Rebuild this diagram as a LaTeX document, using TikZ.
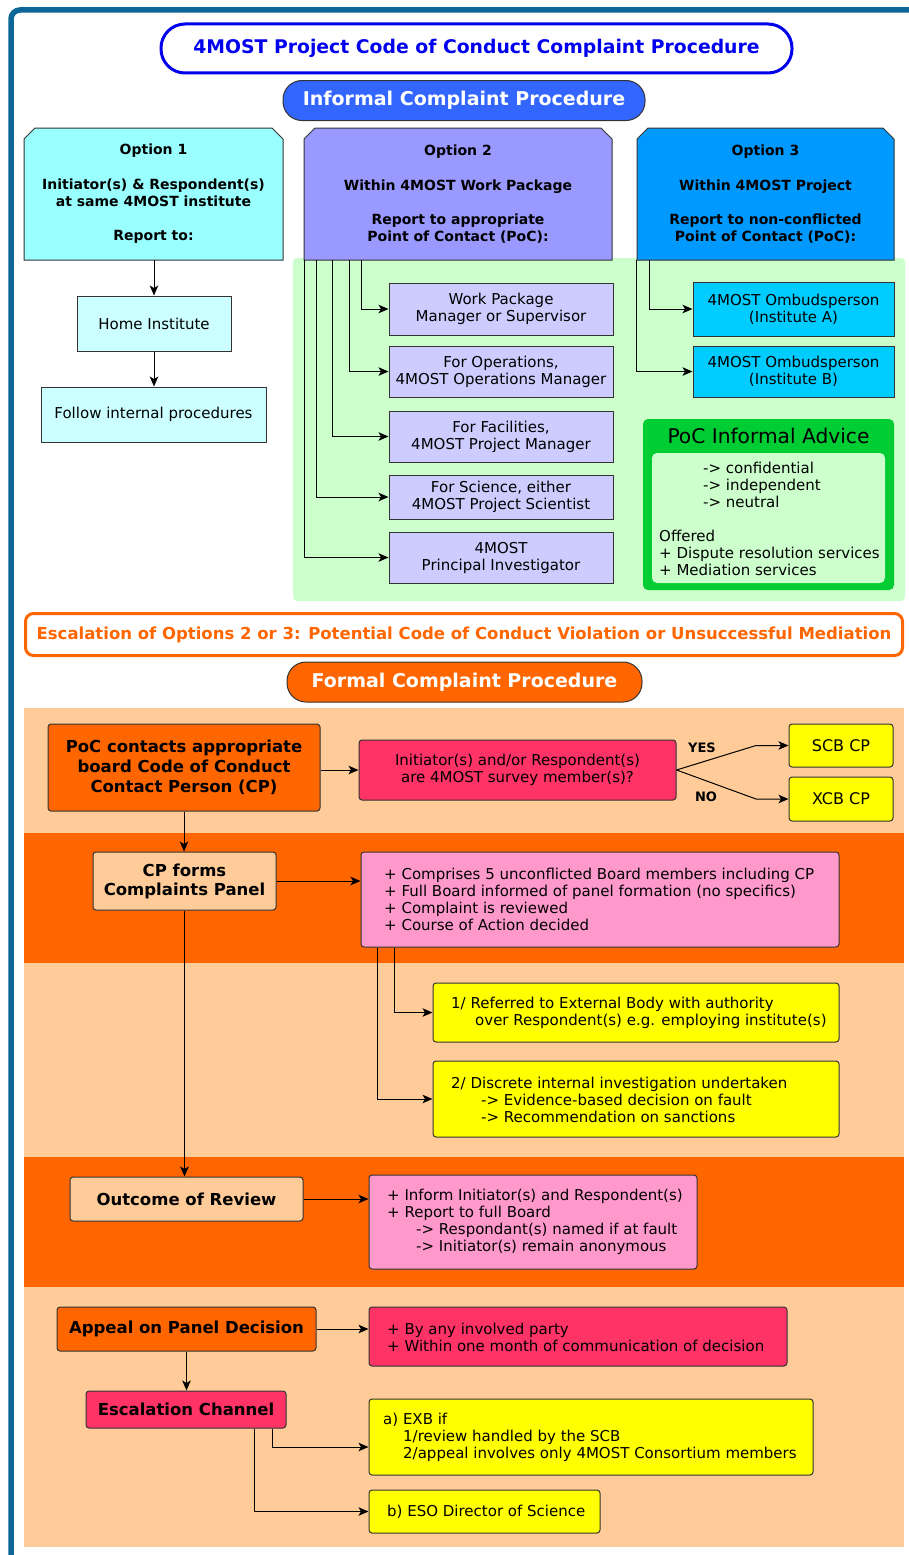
\documentclass[tikz,border=0pt]{standalone}
\usepackage{fontspec}
\setmainfont{DejaVu Sans}
\usetikzlibrary{arrows.meta}
\definecolor{frameblue}{RGB}{12,102,152}
\definecolor{titleblue}{RGB}{0,0,238}
\definecolor{informalblue}{RGB}{51,102,255}
\definecolor{optone}{HTML}{99FFFF}
\definecolor{cyanlight}{HTML}{CCFFFF}
\definecolor{opttwo}{HTML}{9999FF}
\definecolor{lavender}{HTML}{CCCCFF}
\definecolor{optthree}{HTML}{0099FF}
\definecolor{ombud}{HTML}{00CCFF}
\definecolor{greenbg}{HTML}{CCFFCC}
\definecolor{advgreen}{HTML}{00CC33}
\definecolor{orng}{HTML}{FF6600}
\definecolor{peach}{HTML}{FFCC99}
\definecolor{pinkbox}{HTML}{FF99CC}
\definecolor{rose}{HTML}{FF3366}
\definecolor{yell}{HTML}{FFFF00}
\definecolor{edge}{HTML}{333333}
\newcommand\fbody{\fontsize{15}{17}\selectfont}
\newcommand\fopt{\fontsize{14}{17}\selectfont\bfseries}
\newcommand\fbig{\fontsize{16.5}{20}\selectfont\bfseries}
\newcommand\ftitle{\fontsize{18.8}{22}\selectfont\bfseries}
\newcommand\fpill{\fontsize{19}{22}\selectfont\bfseries}
\newcommand\fesc{\fontsize{16.5}{19}\selectfont\bfseries}
\newcommand\chamf[5]{\filldraw[fill=#5, draw=edge, line width=1pt] (#1,#4) -- (#1,#2+11) -- (#1+11,#2) -- (#3-11,#2) -- (#3,#2+11) -- (#3,#4) -- cycle;}
\tikzset{
  bx/.style={draw=edge, line width=1pt, inner sep=0pt, align=center, font=\fbody},
  rbx/.style={bx, rounded corners=3pt},
  txt/.style={inner sep=0pt, align=left, font=\fbody, anchor=west},
  pill/.style={draw=edge, line width=1pt, rounded corners=19pt, inner sep=0pt, font=\fpill},
  arr/.style={-{Stealth[length=10pt,width=8.5pt,inset=2.5pt]}, line width=1pt, draw=black},
}
\begin{document}
\begin{tikzpicture}[x=1pt,y=-1pt]
\useasboundingbox (0,0) rectangle (909,1555);
\clip (0,0) rectangle (909,1555);
\fill[white] (0,0) rectangle (909,1555);
% frame
\draw[frameblue, line width=5.5pt, rounded corners=9pt] (11,10) rectangle (940,1590);

% titles
\node[draw=titleblue, line width=3pt, rounded corners=24pt, fill=white, minimum width=631pt, minimum height=49pt, font=\ftitle, text=titleblue, inner sep=0pt] (title) at (476.5,48.5) {4MOST Project Code of Conduct Complaint Procedure};
\node[pill, fill=informalblue, minimum width=362pt, minimum height=40pt, text=white] (informal) at (464,100.5) {Informal Complaint Procedure};

% green region
\fill[greenbg, rounded corners=4pt] (293,258) rectangle (905,601);

% options
\chamf{24}{128}{283}{260}{optone}
\chamf{304}{128}{612}{260}{opttwo}
\chamf{637}{128}{894}{260}{optthree}
\node[inner sep=0pt, align=center, font=\fopt, minimum width=259pt, minimum height=132pt] (opt1) at (153.5,194) {Option 1\\[18pt]Initiator(s) \& Respondent(s)\\at same 4MOST institute\\[17pt]Report to:};
\node[inner sep=0pt, align=center, font=\fopt, minimum width=308pt, minimum height=132pt] (opt2) at (458,194) {Option 2\\[18pt]Within 4MOST Work Package\\[17pt]Report to appropriate\\Point of Contact (PoC):};
\node[inner sep=0pt, align=center, font=\fopt, minimum width=257pt, minimum height=132pt] (opt3) at (765.5,194) {Option 3\\[18pt]Within 4MOST Project\\[17pt]Report to non-conflicted\\Point of Contact (PoC):};

% option 1 chain
\node[bx, fill=cyanlight, minimum width=154pt, minimum height=55pt] (home) at (154,323.5) {Home Institute};
\node[bx, fill=cyanlight, minimum width=225pt, minimum height=55pt] (follow) at (153.5,414.5) {Follow internal procedures};
\draw[arr] (opt1.south -| home.north) -- (home.north);
\draw[arr] (home.south) -- (home.south |- follow.north);

% option 2 subs
\node[bx, fill=lavender, minimum width=224pt, minimum height=52pt] (wp) at (501,309) {Work Package\\Manager or Supervisor};
\node[bx, fill=lavender, minimum width=224pt, minimum height=51pt] (ops) at (501,371.5) {For Operations,\\4MOST Operations Manager};
\node[bx, fill=lavender, minimum width=224pt, minimum height=51pt] (fac) at (501,436.5) {For Facilities,\\4MOST Project Manager};
\node[bx, fill=lavender, minimum width=224pt, minimum height=44pt] (sci) at (501,497) {For Science, either\\4MOST Project Scientist};
\node[bx, fill=lavender, minimum width=224pt, minimum height=51pt] (pi) at (501,557.5) {4MOST\\Principal Investigator};
\draw[arr] ([xshift=58pt]opt2.south west) |- (wp.west);
\draw[arr] ([xshift=46pt]opt2.south west) |- (ops.west);
\draw[arr] ([xshift=29pt]opt2.south west) |- (fac.west);
\draw[arr] ([xshift=13pt]opt2.south west) |- (sci.west);
\draw[arr] ([xshift=1pt]opt2.south west) |- (pi.west);

% option 3 subs
\node[bx, fill=ombud, minimum width=201pt, minimum height=54pt] (omba) at (793.5,309) {4MOST Ombudsperson\\(Institute A)};
\node[bx, fill=ombud, minimum width=201pt, minimum height=51pt] (ombb) at (793.5,371.5) {4MOST Ombudsperson\\(Institute B)};
\draw[arr] ([xshift=13pt]opt3.south west) |- (omba.west);
\draw[arr] ([xshift=0pt]opt3.south west) |- (ombb.west);

% PoC informal advice
\node[fill=advgreen, rounded corners=5pt, minimum width=251pt, minimum height=171pt, inner sep=0pt] (adv) at (768.5,504.5) {};
\node[inner sep=0pt, font=\fontsize{20.2}{23}\selectfont] (advt) at (768.5,436) {PoC Informal Advice};
\node[fill=greenbg, rounded corners=5pt, minimum width=233pt, minimum height=130pt, inner sep=0pt] (advin) at (768.5,518) {};
\node[txt] (advtxt) at (659,518.5) {\hspace*{44pt}-> confidential\\\hspace*{44pt}-> independent\\\hspace*{44pt}-> neutral\\[17pt]Offered\\+ Dispute resolution services\\+ Mediation services};

% escalation
\node[draw=orng, line width=3pt, rounded corners=8pt, fill=white, minimum width=877pt, minimum height=42pt, text=orng, font=\fesc, inner sep=0pt] (esc) at (464,634.5) {Escalation of Options 2 or 3: Potential Code of Conduct Violation or Unsuccessful Mediation};
\node[pill, fill=orng, minimum width=355pt, minimum height=40pt, text=white] (formal) at (464.5,682) {Formal Complaint Procedure};

% bands
\fill[peach] (24,708) rectangle (904,833);
\fill[orng] (24,833) rectangle (904,963);
\fill[peach] (24,963) rectangle (904,1157);
\fill[orng] (24,1157) rectangle (904,1287);
\fill[peach] (24,1287) rectangle (904,1547);

% formal row 1
\node[rbx, fill=orng, minimum width=272pt, minimum height=87pt, font=\fbig] (poc) at (184,767.5) {PoC contacts appropriate\\board Code of Conduct\\Contact Person (CP)};
\node[rbx, fill=rose, minimum width=317pt, minimum height=60pt] (init) at (517.5,770) {Initiator(s) and/or Respondent(s)\\are 4MOST survey member(s)?};
\node[rbx, fill=yell, minimum width=104pt, minimum height=43pt, font=\fontsize{16}{19}\selectfont] (scb) at (841,745.5) {SCB CP};
\node[rbx, fill=yell, minimum width=104pt, minimum height=44pt, font=\fontsize{16}{19}\selectfont] (xcb) at (841,799) {XCB CP};
\coordinate (kyes) at (756,745.5);
\coordinate (kno) at (756,799);
\draw[arr] (poc.east |- init.west) -- (init.west);
\draw[arr] (init.east) -- (kyes) -- (scb.west);
\draw[arr] (init.east) -- (kno) -- (xcb.west);
\node[inner sep=0pt, font=\fontsize{13}{15}\selectfont\bfseries] (yes) at (702,748) {YES};
\node[inner sep=0pt, font=\fontsize{13}{15}\selectfont\bfseries] (no) at (706,797) {NO};

% formal row 2
\node[rbx, fill=peach, minimum width=183pt, minimum height=58pt, font=\fontsize{16.5}{19}\selectfont\bfseries] (cpf) at (184.5,881) {CP forms\\Complaints Panel};
\node[rbx, fill=pinkbox, minimum width=478pt, minimum height=95pt] (comp) at (600,899.5) {};
\node[txt] (comptxt) at (384,899.5) {+ Comprises 5 unconflicted Board members including CP\\+ Full Board informed of panel formation (no specifics)\\+ Complaint is reviewed\\+ Course of Action decided};
\draw[arr] (poc.south) -- (poc.south |- cpf.north);
\draw[arr] (cpf.east) -- (cpf.east -| comp.west);

% formal row 3
\node[rbx, fill=yell, minimum width=406pt, minimum height=59pt] (b1) at (636,1012.5) {};
\node[txt] (b1txt) at (451,1012.5) {1/ Referred to External Body with authority\\\hspace*{24pt}over Respondent(s) e.g. employing institute(s)};
\node[rbx, fill=yell, minimum width=406pt, minimum height=76pt] (b2) at (636,1099) {};
\node[txt] (b2txt) at (451,1100) {2/ Discrete internal investigation undertaken\\\hspace*{30pt}-> Evidence-based decision on fault\\\hspace*{30pt}-> Recommendation on sanctions};
\draw[arr] ([xshift=34pt]comp.south west) |- (b1.west);
\draw[arr] ([xshift=17pt]comp.south west) |- (b2.west);

% formal row 4
\node[rbx, fill=peach, minimum width=233pt, minimum height=44pt, font=\fbig] (outc) at (186.5,1199) {Outcome of Review};
\node[rbx, fill=pinkbox, minimum width=328pt, minimum height=94pt] (inf) at (533,1222) {};
\node[txt] (inftxt) at (387,1222) {+ Inform Initiator(s) and Respondent(s)\\+ Report to full Board\\\hspace*{29pt}-> Respondant(s) named if at fault\\\hspace*{29pt}-> Initiator(s) remain anonymous};
\draw[arr] (cpf.south) -- (cpf.south |- outc.north);
\draw[arr] (outc.east) -- (outc.east -| inf.west);

% formal row 5
\node[rbx, fill=orng, minimum width=259pt, minimum height=44pt, font=\fbig] (app) at (186.5,1329) {Appeal on Panel Decision};
\node[rbx, fill=rose, minimum width=418pt, minimum height=59pt] (by) at (578,1336.5) {};
\node[txt] (bytxt) at (387,1337) {+ By any involved party\\+ Within one month of communication of decision};
\draw[arr] (app.east) -- (app.east -| by.west);
\node[rbx, fill=rose, minimum width=200pt, minimum height=37pt, font=\fbig] (escch) at (186,1409.5) {Escalation Channel};
\draw[arr] (app.south) -- (app.south |- escch.north);
\node[rbx, fill=yell, minimum width=444pt, minimum height=76pt] (exb) at (591,1437) {};
\node[txt] (exbtxt) at (383,1437) {a) EXB if\\\hspace*{20pt}1/review handled by the SCB\\\hspace*{20pt}2/appeal involves only 4MOST Consortium members};
\node[rbx, fill=yell, minimum width=231pt, minimum height=43pt] (eso) at (484.5,1511.5) {};
\node[txt] (esotxt) at (387,1511.5) {b) ESO Director of Science};
\draw[arr] ([xshift=-14pt]escch.south east) |- ([yshift=-10pt]exb.west);
\draw[arr] ([xshift=-32pt]escch.south east) |- (eso.west);
\end{tikzpicture}
\end{document}
